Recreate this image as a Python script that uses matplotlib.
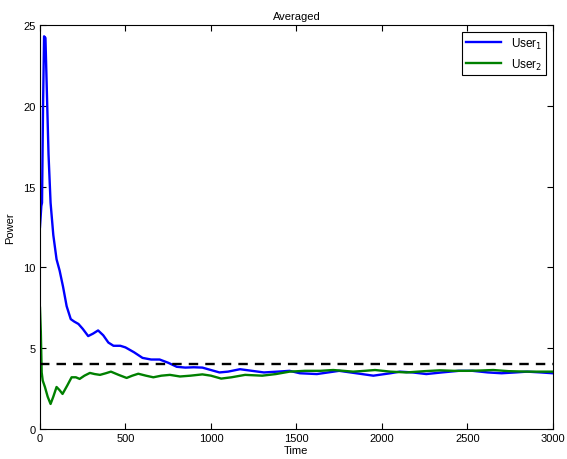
import matplotlib
matplotlib.use("Agg")
from matplotlib import pyplot as plt

# values
t_user1 = [0, 8, 12, 18, 24, 32, 40, 50, 62, 78, 97, 115, 135, 156, 180, 200, 225, 250, 282, 310,
           340, 370, 400, 430, 470, 500, 550, 600, 650, 700, 750, 800, 850, 900, 950, 1000, 1050,
           1100, 1170, 1240, 1310, 1390, 1460, 1520, 1620, 1750, 1850, 1950, 2050, 2105, 2180,
           2260, 2350, 2450, 2530, 2620, 2700, 2780, 2850, 2930, 3000]
p_user1 = [12.5, 13.8, 14.0, 20.0, 24.3, 24.2, 21.0, 17.0, 14.0, 12.0, 10.5, 9.8, 8.8, 7.6, 6.8,
           6.65, 6.5, 6.2, 5.75, 5.9, 6.1, 5.8, 5.35, 5.15, 5.15, 5.05, 4.75, 4.4, 4.3, 4.3, 4.1,
           3.85, 3.8, 3.82, 3.8, 3.65, 3.5, 3.55, 3.7, 3.6, 3.5, 3.55, 3.6, 3.45, 3.4, 3.6, 3.45,
           3.3, 3.45, 3.55, 3.5, 3.4, 3.5, 3.6, 3.6, 3.5, 3.45, 3.5, 3.55, 3.5, 3.45]

t_user2 = [0, 5, 10, 16, 29, 45, 62, 78, 97, 115, 132, 160, 185, 210, 232, 260, 292, 320, 351,
           385, 415, 460, 507, 540, 575, 620, 663, 710, 760, 819, 880, 950, 1000, 1060, 1120,
           1200, 1300, 1380, 1460, 1550, 1640, 1715, 1832, 1900, 1960, 2050, 2144, 2250, 2339,
           2420, 2500, 2580, 2651, 2740, 2850, 3000]
p_user2 = [7.5, 6.0, 3.5, 3.0, 2.6, 2.0, 1.55, 2.0, 2.6, 2.4, 2.17, 2.7, 3.2, 3.2, 3.1, 3.3,
           3.47, 3.4, 3.35, 3.45, 3.55, 3.35, 3.16, 3.3, 3.42, 3.3, 3.2, 3.3, 3.35, 3.25, 3.3,
           3.38, 3.3, 3.12, 3.2, 3.35, 3.3, 3.4, 3.55, 3.6, 3.6, 3.65, 3.55, 3.6, 3.65, 3.55,
           3.5, 3.58, 3.63, 3.6, 3.6, 3.62, 3.65, 3.58, 3.55, 3.55]

target = 4.0

plt.rcParams['font.family'] = ['Liberation Sans', 'DejaVu Sans']
plt.rcParams['font.size'] = 8

fig = plt.figure(figsize=(5.67, 4.6), dpi=100)
ax = fig.add_axes([0.0705, 0.0652, 0.9045, 0.8783])

ax.plot(t_user1, p_user1, color='#0000ff', lw=1.7, label='User$_1$')
ax.plot(t_user2, p_user2, color='#008000', lw=1.7, label='User$_2$')
ax.plot([0, 3000], [target, target], color='black', lw=1.7, ls=(0, (4, 3)))

ax.set_xlim(0, 3000)
ax.set_ylim(0, 25)
ax.set_xticks(range(0, 3001, 500))
ax.set_yticks(range(0, 26, 5))
ax.tick_params(direction='in', top=True, right=True, length=4, width=0.8, labelsize=8, pad=3)
for s in ax.spines.values():
    s.set_linewidth(0.8)

ax.set_title('Averaged', fontsize=8, pad=4)
ax.set_xlabel('Time', fontsize=8, labelpad=1)
ax.set_ylabel('Power', fontsize=8, labelpad=6)

leg = ax.legend(loc='upper right', fancybox=False, framealpha=1, edgecolor='black',
                handlelength=3.0, fontsize=8.5, borderaxespad=0.6, borderpad=0.3)
leg.get_frame().set_linewidth(0.8)

fig.savefig('out.png', dpi=100)
